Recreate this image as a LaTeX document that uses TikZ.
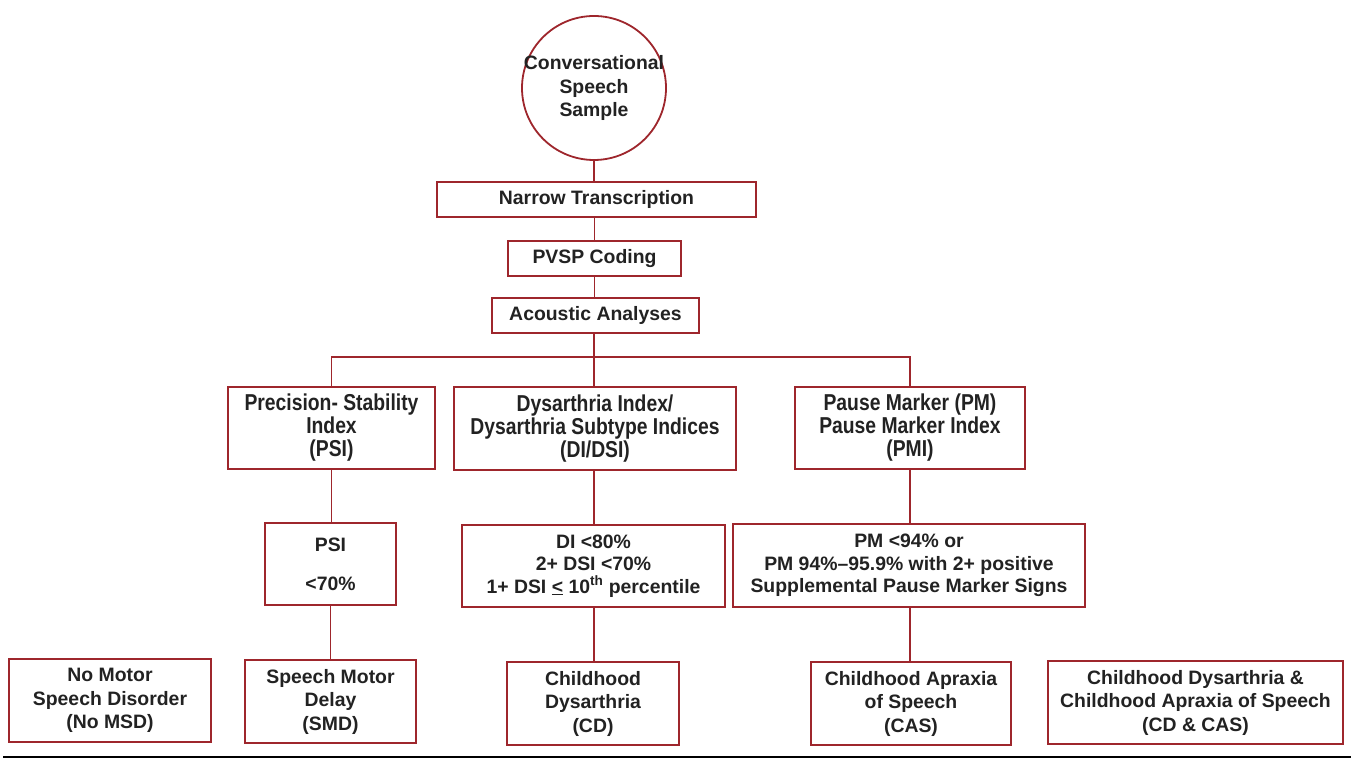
\documentclass[tikz,border=0pt]{standalone}
\usepackage{fontspec}
\setmainfont{Liberation Sans}
\newfontfamily\narrowfont[FakeStretch=0.84]{Liberation Sans}
\definecolor{boxred}{RGB}{158,38,44}
\definecolor{txt}{RGB}{34,34,34}
\begin{document}
\begin{tikzpicture}[x=1pt,y=1pt,
  box/.style={draw=boxred,line width=1.8pt,fill=white,text=txt,align=center,inner sep=1pt,
    font=\bfseries\fontsize{19.4}{23.5}\selectfont},
  nbox/.style={box,font=\narrowfont\bfseries\fontsize{23}{23}\selectfont},
  cbox/.style={box,font=\bfseries\fontsize{19.4}{22.5}\selectfont},
  link/.style={draw=boxred,line width=1.8pt}]
\useasboundingbox (0,0) rectangle (1351,759);
% top
\node[box,circle,inner sep=-20pt,minimum size=144pt] (circ) at (594,671) {Conversational\\Speech\\Sample};
\node[box,minimum width=319pt,minimum height=35pt] (narrow) at (596.5,559.5) {Narrow Transcription};
\node[box,minimum width=173pt,minimum height=35pt] (pvsp) at (594.5,500.5) {PVSP Coding};
\node[box,minimum width=207pt,minimum height=35pt] (acou) at (595.5,443.5) {Acoustic Analyses};
\coordinate (bus) at (594,402);
% second row
\node[nbox,minimum width=207pt,minimum height=82pt] (psi) at (331.5,331) {Precision- Stability\\Index\\(PSI)};
\node[nbox,minimum width=282pt,minimum height=83pt] (di) at (595,330.5) {Dysarthria Index/\\Dysarthria Subtype Indices\\(DI/DSI)};
\node[nbox,minimum width=230pt,minimum height=82pt] (pmi) at (910,331) {Pause Marker (PM)\\Pause Marker Index\\(PMI)};
% third row
\node[cbox,minimum width=131pt,minimum height=82pt] (psic) at (330.5,195) {PSI\\[16.5pt]<70\%};
\node[cbox,minimum width=263pt,minimum height=82pt] (dic) at (593.5,193) {DI <80\%\\2+ DSI <70\%\\1+ DSI \underline{<} 10\textsuperscript{th} percentile};
\node[cbox,minimum width=352pt,minimum height=83pt] (pmc) at (909,193.5) {PM <94\% or\\PM 94\%–95.9\% with 2+ positive\\Supplemental Pause Marker Signs};
% bottom row
\node[box,minimum width=202pt,minimum height=83pt] (nomsd) at (110,58.5) {No Motor\\Speech Disorder\\(No MSD)};
\node[box,minimum width=171pt,minimum height=83pt] (smd) at (330.5,57.5) {Speech Motor\\Delay\\(SMD)};
\node[box,minimum width=172pt,minimum height=83pt] (cd) at (593,55.5) {Childhood\\Dysarthria\\(CD)};
\node[box,minimum width=200pt,minimum height=83pt] (cas) at (911,55.5) {Childhood Apraxia\\of Speech\\(CAS)};
\node[box,minimum width=295pt,minimum height=83pt] (cdcas) at (1195.5,56.5) {Childhood Dysarthria \&\\Childhood Apraxia of Speech\\(CD \& CAS)};
% connectors
\draw[link] (circ.south) -- (circ.south |- narrow.north);
\draw[link] (pvsp.north |- narrow.south) -- (pvsp.north);
\draw[link] (pvsp.south) -- (pvsp.south |- acou.north);
\draw[link] (bus |- acou.south) -- (bus) -- (bus |- di.north);
\draw[link] (psi.north) |- (bus) -| (pmi.north);
\draw[link] (psi.south) -- (psi.south |- psic.north);
\draw[link] (psic.south) -- (psic.south |- smd.north);
\draw[link] (bus |- di.south) -- (bus |- dic.north);
\draw[link] (bus |- dic.south) -- (bus |- cd.north);
\draw[link] (pmi.south) -- (pmi.south |- pmc.north);
\draw[link] (pmi.south |- pmc.south) -- (pmi.south |- cas.north);
% bottom rule
\coordinate (ruleL) at (3,2);
\coordinate (ruleR) at (1351,2);
\draw[line width=1.8pt,black] (ruleL) -- (ruleR);
\end{tikzpicture}
\end{document}
